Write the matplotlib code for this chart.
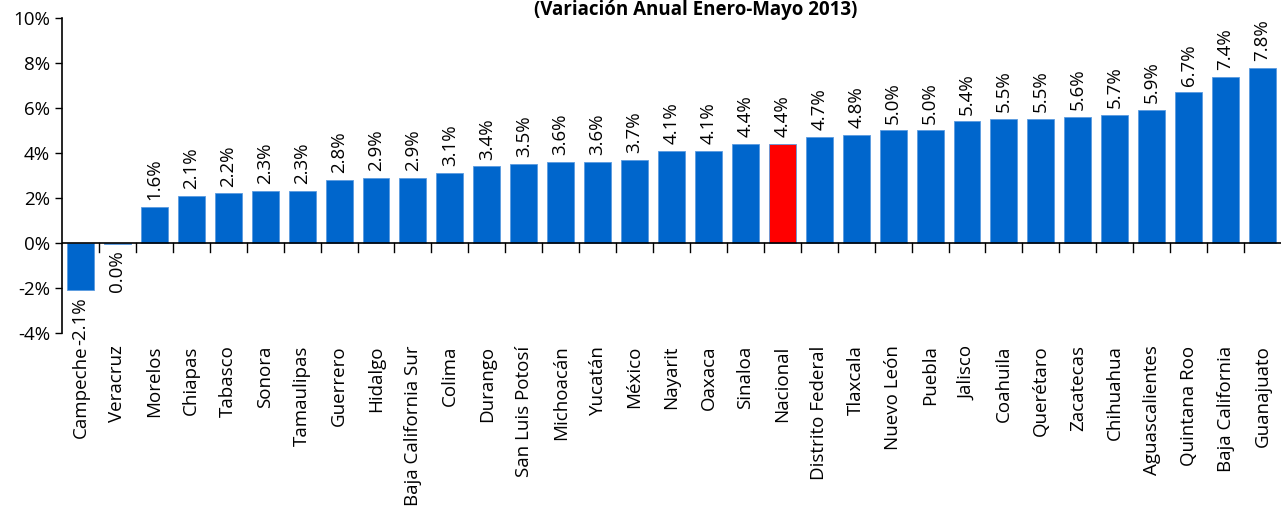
import matplotlib
matplotlib.use('Agg')
import matplotlib.pyplot as plt
import numpy as np
from matplotlib.ticker import FuncFormatter

plt.rcParams['font.family'] = ['Open Sans', 'DejaVu Sans']

estados = ['Campeche', 'Veracruz', 'Morelos', 'Chiapas', 'Tabasco', 'Sonora',
           'Tamaulipas', 'Guerrero', 'Hidalgo', 'Baja California Sur', 'Colima',
           'Durango', 'San Luis Potosí', 'Michoacán', 'Yucatán', 'México',
           'Nayarit', 'Oaxaca', 'Sinaloa', 'Nacional', 'Distrito Federal',
           'Tlaxcala', 'Nuevo León', 'Puebla', 'Jalisco', 'Coahuila',
           'Querétaro', 'Zacatecas', 'Chihuahua', 'Aguascalientes',
           'Quintana Roo', 'Baja California', 'Guanajuato']
variacion = [-2.1, -0.03, 1.6, 2.1, 2.2, 2.3, 2.3, 2.8, 2.9, 2.9, 3.1,
             3.4, 3.5, 3.6, 3.6, 3.7, 4.1, 4.1, 4.4, 4.4, 4.7,
             4.8, 5.0, 5.0, 5.4, 5.5, 5.5, 5.6, 5.7, 5.9,
             6.7, 7.4, 7.8]
etiquetas = ['-2.1%', '0.0%', '1.6%', '2.1%', '2.2%', '2.3%', '2.3%', '2.8%',
             '2.9%', '2.9%', '3.1%', '3.4%', '3.5%', '3.6%', '3.6%', '3.7%',
             '4.1%', '4.1%', '4.4%', '4.4%', '4.7%', '4.8%', '5.0%', '5.0%',
             '5.4%', '5.5%', '5.5%', '5.6%', '5.7%', '5.9%', '6.7%', '7.4%',
             '7.8%']

x = np.arange(len(estados))
colores = ['#FF0000' if e == 'Nacional' else '#0066CC' for e in estados]

fig = plt.figure(figsize=(12.81, 5.16), dpi=100)
ax = fig.add_axes([0.0484, 0.3547, 0.9516, 0.6104])

ax.bar(x, variacion, width=0.73, color=colores, edgecolor='#5B9BE0',
       linewidth=0.6, zorder=2)

ax.set_xlim(-0.5, len(estados) - 0.5)
ax.set_ylim(-4, 10)
ax.set_yticks(np.arange(-4, 11, 2))
ax.yaxis.set_major_formatter(FuncFormatter(lambda v, p: '%d%%' % v))
ax.tick_params(axis='y', labelsize=13.5, length=5, width=1)

for s in ['top', 'right', 'bottom']:
    ax.spines[s].set_visible(False)
ax.spines['left'].set_linewidth(1.2)
ax.axhline(0, color='black', linewidth=1.2, zorder=3)

# category labels at bottom, ticks at zero line between categories
ax.set_xticks(x)
ax.set_xticklabels(estados, rotation=90, fontsize=13.5)
ax.tick_params(axis='x', length=0, pad=9)
for b in np.arange(0.5, len(estados) - 0.5, 1):
    ax.plot([b, b], [0, -0.4], color='black', linewidth=1, zorder=3,
            clip_on=False)

for xi, v, t in zip(x, variacion, etiquetas):
    if v > 0:
        ax.text(xi, v + 0.3, t, rotation=90, ha='center', va='bottom',
                fontsize=13.5)
    else:
        ax.text(xi, v - 0.3, t, rotation=90, ha='center', va='top',
                fontsize=13.5)

fig.text(0.543, 1.0, '(Variación Anual Enero-Mayo 2013)', ha='center',
         va='top', fontsize=13.5, fontweight='bold')

fig.savefig('out.png', dpi=100)
